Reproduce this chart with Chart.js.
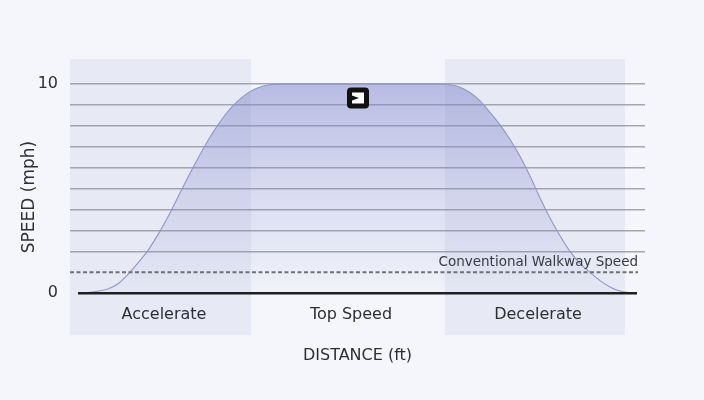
<!DOCTYPE html>
<html>
<head>
<meta charset="utf-8">
<script src="https://cdn.jsdelivr.net/npm/chart.js@4.4.1/dist/chart.umd.min.js"></script>
<style>
  html, body { margin: 0; padding: 0; background: #f4f6fb; }
  #wrap { width: 704px; height: 400px; }
</style>
</head>
<body>
<div id="wrap"><canvas id="chart" width="704" height="400"></canvas></div>
<script>
// Speed profile (distance in arbitrary ft units, speed in mph)
const distance = [2.8, 5.2, 7.6, 9.6, 11.6, 13.6, 15.6, 17.6, 19.6, 21.6, 23.6, 25.6, 27.6, 29.6, 31.6, 33.6, 35.6, 37.6, 39.6, 41.6,
                  74, 76, 78, 80, 82, 84, 86, 88, 90, 92, 94, 96, 98, 100, 102, 104, 106, 108, 110, 112.4];
const speed = [0, 0.08, 0.2, 0.45, 0.9, 1.45, 2.05, 2.8, 3.65, 4.6, 5.55, 6.45, 7.3, 8.05, 8.7, 9.2, 9.58, 9.83, 9.96, 10,
               10, 9.97, 9.85, 9.6, 9.2, 8.65, 8.05, 7.35, 6.55, 5.6, 4.55, 3.6, 2.75, 2.0, 1.42, 1.0, 0.6, 0.3, 0.1, 0];

const walkwaySpeed = 1;
const walkwayLabel = "Conventional Walkway Speed";
const baselineRange = [1.6, 113.4];
const walkwayRange = [0, 113.6];

// phases along the distance axis
const bandLabels = ["Accelerate", "Top Speed", "Decelerate"];
const bandStarts = [0, 36.2, 75];
const bandEnds = [36.2, 75, 111];
const bandShaded = [true, false, true];
const bandLabelCenters = [18.8, 56.2, 93.6];

const yTickLabels = { 0: "0", 10: "10" };

const FONT = "'DejaVu Sans', 'Open Sans', sans-serif";
const TEXT = "#2e2e33";

const decorPlugin = {
  id: "decor",
  beforeDraw(chart) {
    const { ctx, chartArea: a, scales: { x } } = chart;
    ctx.save();
    ctx.fillStyle = "#f4f6fb";
    ctx.fillRect(0, 0, chart.width, chart.height);
    ctx.fillStyle = "#e7eaf4";
    bandLabels.forEach((_, i) => {
      if (!bandShaded[i]) return;
      const x0 = x.getPixelForValue(bandStarts[i]);
      const x1 = x.getPixelForValue(bandEnds[i]);
      ctx.fillRect(x0, a.top, x1 - x0, a.bottom - a.top);
    });
    ctx.restore();
  },
  afterDatasetsDraw(chart) {
    const { ctx, scales: { x, y } } = chart;
    ctx.save();
    ctx.fillStyle = TEXT;
    ctx.textAlign = "center";
    ctx.textBaseline = "middle";

    // phase labels
    ctx.font = "16px " + FONT;
    bandLabels.forEach((lbl, i) => {
      ctx.fillText(lbl, x.getPixelForValue(bandLabelCenters[i]), y.getPixelForValue(-1.02));
    });

    // walkway label
    ctx.font = "13.5px " + FONT;
    ctx.fillStyle = "#3a3a40";
    ctx.textAlign = "right";
    ctx.fillText(walkwayLabel, x.getPixelForValue(walkwayRange[1]), y.getPixelForValue(walkwaySpeed + 0.48));
    ctx.restore();

    // little logo badge at top speed
    const cx = x.getPixelForValue(57.6), cy = y.getPixelForValue(9.33);
    const w = 22, h = 21, l = cx - w / 2, t = cy - h / 2;
    ctx.save();
    ctx.fillStyle = "#111";
    ctx.beginPath();
    ctx.roundRect(l, t, w, h, 4);
    ctx.fill();
    ctx.fillStyle = "#fff";
    ctx.beginPath();
    ctx.moveTo(l + 5, t + 5);
    ctx.lineTo(l + 17, t + 5);
    ctx.lineTo(l + 17, t + 16);
    ctx.lineTo(l + 5, t + 16);
    ctx.lineTo(l + 5, t + 13);
    ctx.lineTo(l + 12, t + 10.5);
    ctx.lineTo(l + 5, t + 8);
    ctx.closePath();
    ctx.fill();
    ctx.restore();
  }
};

const ctx = document.getElementById("chart").getContext("2d");

new Chart(ctx, {
  type: "line",
  data: {
    datasets: [
      {
        label: "baseline",
        data: baselineRange.map(d => ({ x: d, y: 0 })),
        borderColor: "#1f1f22",
        borderWidth: 2.5,
        pointRadius: 0,
      },
      {
        label: walkwayLabel,
        data: walkwayRange.map(d => ({ x: d, y: walkwaySpeed })),
        borderColor: "#6e7079",
        borderWidth: 2.2,
        borderDash: [4, 2.5],
        pointRadius: 0,
      },
      {
        label: "Speed",
        data: distance.map((d, i) => ({ x: d, y: speed[i] })),
        borderColor: "#9296c8",
        borderWidth: 1.1,
        pointRadius: 0,
        cubicInterpolationMode: "monotone",
        fill: "origin",
        backgroundColor: (c) => {
          const { chart } = c;
          if (!chart.chartArea) return "rgba(130,136,205,0.3)";
          const ys = chart.scales.y;
          const g = chart.ctx.createLinearGradient(0, ys.getPixelForValue(10), 0, ys.getPixelForValue(0));
          g.addColorStop(0, "rgba(128,134,205,0.52)");
          g.addColorStop(0.5, "rgba(128,134,205,0.24)");
          g.addColorStop(1, "rgba(128,134,205,0.03)");
          return g;
        },
      },
    ],
  },
  options: {
    responsive: false,
    animation: false,
    layout: { padding: { left: 0, right: 59, top: 59, bottom: 0 } },
    plugins: {
      legend: { display: false },
      tooltip: { enabled: false },
    },
    scales: {
      x: {
        type: "linear",
        min: 0,
        max: 115,
        grid: { display: false },
        border: { display: false },
        ticks: { display: false },
        title: {
          display: true,
          text: "DISTANCE (ft)",
          color: TEXT,
          font: { family: FONT, size: 16 },
          padding: { top: 0, bottom: 35 },
        },
        afterFit: (s) => { s.height = 65; },
      },
      y: {
        min: -2,
        max: 11.2,
        border: { display: false },
        grid: {
          drawTicks: false,
          lineWidth: 1.5,
          color: (c) => {
            const v = c.tick && c.tick.value;
            return (Number.isInteger(v) && v >= 2 && v <= 10) ? "rgba(150,152,162,0.85)" : "rgba(0,0,0,0)";
          },
        },
        ticks: {
          stepSize: 1,
          autoSkip: false,
          padding: 12,
          color: TEXT,
          font: { family: FONT, size: 16 },
          callback: (v) => yTickLabels[v] ?? "",
        },
        title: {
          display: true,
          text: "SPEED (mph)",
          color: TEXT,
          font: { family: FONT, size: 17 },
          padding: { top: 19, bottom: 0 },
        },
        afterFit: (s) => { s.width = 70; },
      },
    },
  },
  plugins: [decorPlugin],
});
</script>
</body>
</html>
